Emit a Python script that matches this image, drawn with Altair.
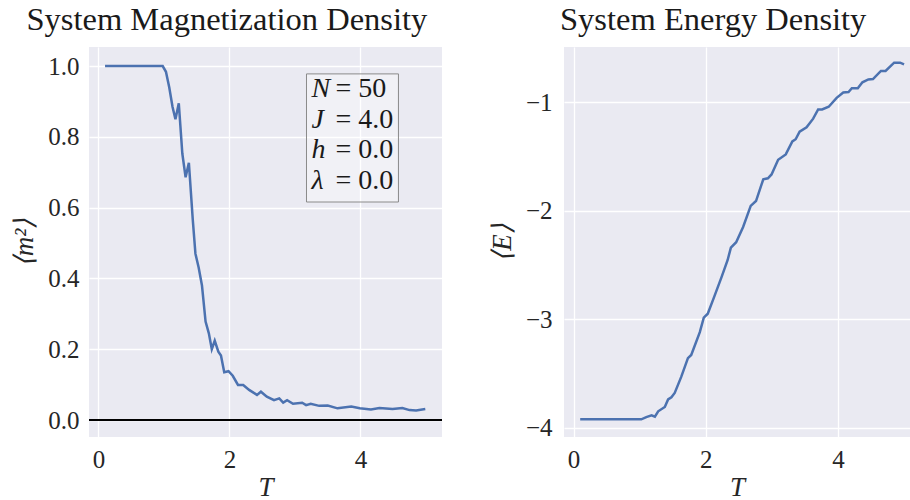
import altair as alt
import pandas as pd

# --- data ---
T_m = [0.10, 0.98, 1.03, 1.08, 1.13, 1.175, 1.226, 1.28, 1.33, 1.38, 1.44, 1.48, 1.53,
       1.58, 1.635, 1.685, 1.73, 1.775, 1.83, 1.87, 1.92, 1.985, 2.05, 2.13, 2.21, 2.30,
       2.42, 2.48, 2.57, 2.68, 2.76, 2.82, 2.88, 2.97, 3.11, 3.17, 3.24, 3.37, 3.50, 3.65,
       3.86, 3.99, 4.16, 4.29, 4.49, 4.64, 4.75, 4.85, 4.99]
m2 = [1.0, 1.0, 0.984, 0.94, 0.885, 0.85, 0.895, 0.753, 0.686, 0.727, 0.565, 0.47, 0.43,
      0.38, 0.278, 0.245, 0.20, 0.224, 0.193, 0.182, 0.135, 0.138, 0.125, 0.099, 0.099, 0.085,
      0.071, 0.08, 0.066, 0.056, 0.061, 0.049, 0.056, 0.046, 0.049, 0.042, 0.046, 0.04, 0.041,
      0.033, 0.038, 0.033, 0.03, 0.034, 0.031, 0.034, 0.028, 0.027, 0.031]

T_E = [0.10, 1.025, 1.10, 1.18, 1.23, 1.28, 1.38, 1.43, 1.48, 1.53, 1.63, 1.73, 1.78, 1.91,
       1.97, 2.03, 2.13, 2.24, 2.33, 2.38, 2.46, 2.565, 2.68, 2.76, 2.87, 2.94, 2.995, 3.095,
       3.21, 3.31, 3.36, 3.42, 3.525, 3.625, 3.70, 3.76, 3.86, 3.98, 4.08, 4.16, 4.21, 4.30,
       4.37, 4.46, 4.53, 4.65, 4.72, 4.85, 4.94, 5.0]
E = [-3.924, -3.924, -3.903, -3.887, -3.90, -3.85, -3.81, -3.74, -3.72, -3.68, -3.53, -3.36,
     -3.33, -3.12, -2.985, -2.95, -2.79, -2.61, -2.456, -2.34, -2.29, -2.15, -1.955, -1.91,
     -1.71, -1.70, -1.665, -1.53, -1.48, -1.36, -1.34, -1.27, -1.23, -1.15, -1.065, -1.065,
     -1.04, -0.958, -0.908, -0.905, -0.87, -0.87, -0.815, -0.788, -0.785, -0.71, -0.71,
     -0.634, -0.634, -0.65]

param_symbols = ["N", "J", "h", "λ"]
param_values = ["= 50", "= 4.0", "= 0.0", "= 0.0"]
param_y = [0.935, 0.849, 0.763, 0.676]
box_T = [3.176, 4.580]
box_m = [0.616, 0.978]
sym_T = 3.252
val_T = 3.62

SERIF = "Liberation Serif"
LINE = "#4C72B0"

df_m = pd.DataFrame({"T": T_m, "m": m2})
df_E = pd.DataFrame({"T": T_E, "E": E})
df_zero = pd.DataFrame({"m": [0.0]})
df_box = pd.DataFrame({"T": [box_T[0]], "T2": [box_T[1]], "m": [box_m[0]], "m2": [box_m[1]]})
df_txt = pd.DataFrame({"Ts": [sym_T] * 4, "Tv": [val_T] * 4, "m": param_y,
                       "sym": param_symbols, "val": param_values})

xs_left = alt.Scale(domain=[-0.145, 5.245], nice=False, zero=False)
ys_left = alt.Scale(domain=[-0.048, 1.054], nice=False, zero=False)
x_axis = alt.Axis(values=[0, 2, 4], format="d", labelPadding=10, titlePadding=2)

def X(field):
    return alt.X(field, type="quantitative", scale=xs_left, axis=x_axis, title="T")

def Y(field):
    return alt.Y(field, type="quantitative", scale=ys_left, title="⟨m²⟩",
                 axis=alt.Axis(values=[0, 0.2, 0.4, 0.6, 0.8, 1.0], format=".1f",
                               labelPadding=10, titlePadding=9))

line_m = alt.Chart(df_m).mark_line(color=LINE, strokeWidth=2.5).encode(x=X("T"), y=Y("m"))
zero = alt.Chart(df_zero).mark_rule(color="black", strokeWidth=2).encode(y=Y("m"))
box = alt.Chart(df_box).mark_rect(fill="white", fillOpacity=0.35, stroke="#8a8a8a",
                                  strokeWidth=1).encode(
    x=X("T"), x2="T2", y=Y("m"), y2="m2")
syms = alt.Chart(df_txt).mark_text(font=SERIF, fontSize=28, fontStyle="italic", align="left",
                                   baseline="middle", color="#1a1a1a").encode(
    x=X("Ts"), y=Y("m"), text="sym:N")
vals = alt.Chart(df_txt).mark_text(font=SERIF, fontSize=28, align="left", baseline="middle",
                                   color="#1a1a1a").encode(
    x=X("Tv"), y=Y("m"), text="val:N")

left = alt.layer(line_m, zero, box, syms, vals).properties(
    width=353, height=390,
    title=alt.TitleParams("System Magnetization Density", anchor="middle", frame="bounds"))

right = alt.Chart(df_E).mark_line(color=LINE, strokeWidth=2.5).encode(
    x=alt.X("T:Q", scale=alt.Scale(domain=[-0.145, 5.09], nice=False, zero=False),
            axis=x_axis, title="T"),
    y=alt.Y("E:Q", scale=alt.Scale(domain=[-4.087, -0.489], nice=False, zero=False),
            title="⟨E⟩",
            axis=alt.Axis(values=[-4, -3, -2, -1], format="d", labelPadding=12, titlePadding=9)),
).properties(width=346, height=390,
             title=alt.TitleParams("System Energy Density", anchor="middle", frame="bounds",
                                   dx=14))

chart = alt.hconcat(left, right, spacing=45).properties(
    padding={"left": 10, "top": 3, "right": 0, "bottom": 0},
    background="white",
).configure_view(
    fill="#EAEAF2", strokeWidth=0
).configure_axis(
    domain=False, ticks=False, gridColor="white", gridWidth=1.3,
    labelFont=SERIF, labelFontSize=25, labelColor="#262626",
    titleFont=SERIF, titleFontSize=27, titleFontStyle="italic", titleFontWeight="normal",
    titleColor="#262626",
).configure_title(
    font=SERIF, fontSize=32.5, fontWeight="normal", color="#1a1a1a", offset=11
)

chart.save("out.html", embed_options={"renderer": "svg", "actions": False})
